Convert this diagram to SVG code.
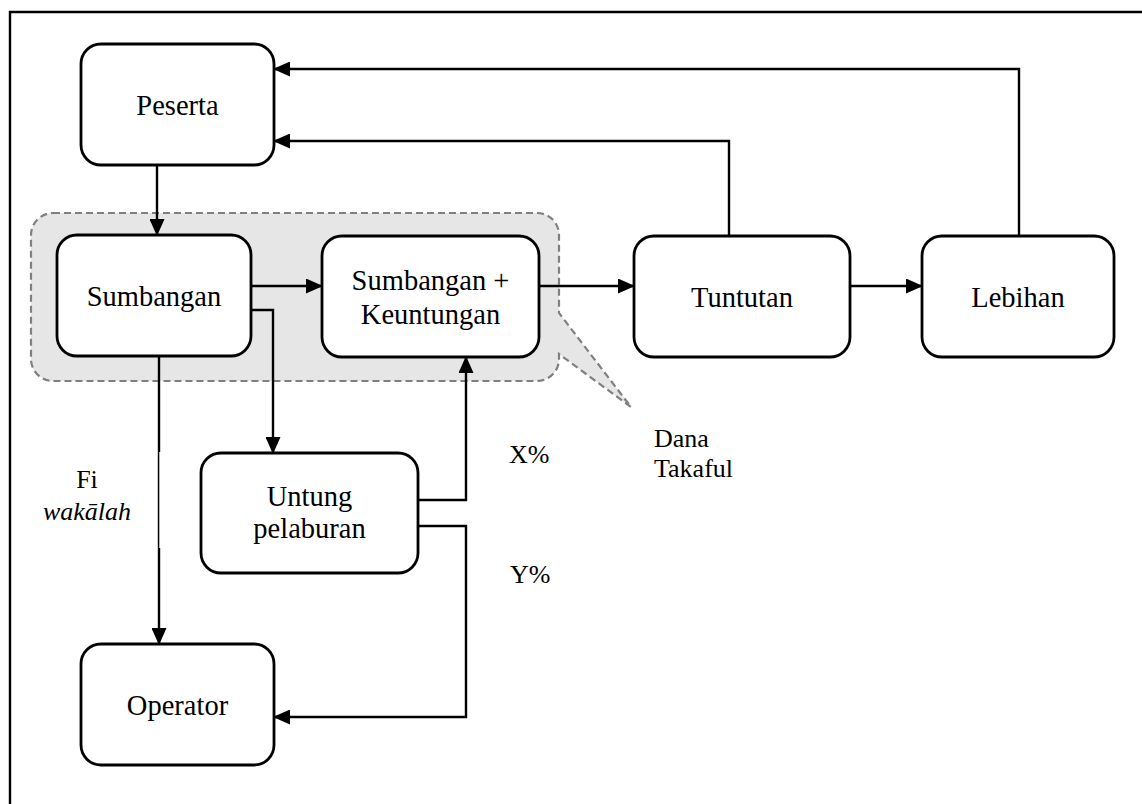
<svg xmlns="http://www.w3.org/2000/svg" width="1142" height="804" viewBox="0 0 1142 804">
<style>
.box{fill:#fff;stroke:#000;stroke-width:2.8}
.t{font-family:"Liberation Serif","Times New Roman",serif;font-size:28.5px;fill:#000;text-anchor:middle}
.lbl{font-family:"Liberation Serif","Times New Roman",serif;font-size:26px;fill:#000}
.c{fill:none;stroke:#000;stroke-width:2.4}
</style>
<defs>
<marker id="ah" markerWidth="17" markerHeight="15" refX="16" refY="7.5" orient="auto" markerUnits="userSpaceOnUse">
<path d="M0,0 L17,7.5 L0,15 Z" fill="#000"/>
</marker>
</defs>
<rect width="1142" height="804" fill="#fff"/>
<path d="M10,804 V12 H1142" fill="none" stroke="#000" stroke-width="2.4"/>
<g id="dana-takaful">
<path d="M53,213 H537 A22,22 0 0 1 559,235 V313 L631,407 L559,354 V359 A22,22 0 0 1 537,381 H53 A22,22 0 0 1 31,359 V235 A22,22 0 0 1 53,213 Z" fill="#e6e6e6" stroke="#808080" stroke-width="2.2" stroke-dasharray="7,4"/>
</g>
<g id="connectors">
<path d="M1019,236 V69 H274" class="c" marker-end="url(#ah)"/>
<path d="M729,236 V141 H274" class="c" marker-end="url(#ah)"/>
<path d="M157,165 V235" class="c" marker-end="url(#ah)"/>
<path d="M251,286 H322" class="c" marker-end="url(#ah)"/>
<path d="M251,310 H273 V453" class="c" marker-end="url(#ah)"/>
<path d="M539,286 H634" class="c" marker-end="url(#ah)"/>
<path d="M850,286 H922" class="c" marker-end="url(#ah)"/>
<path d="M418,500 H466 V357" class="c" marker-end="url(#ah)"/>
<path d="M418,526 H466 V717 H274" class="c" marker-end="url(#ah)"/>
<path d="M159,356 V644" class="c" marker-end="url(#ah)"/>
<rect x="159.3" y="452" width="2.2" height="96" fill="#fff"/>
</g>
<g id="peserta"><rect class="box" x="81" y="44" width="193" height="121" rx="20"/><text class="t" x="177.5" y="115">Peserta</text></g>
<g id="sumbangan"><rect class="box" x="57" y="235" width="194" height="121" rx="20"/><text class="t" x="154" y="306">Sumbangan</text></g>
<g id="sumbangan-keuntungan"><rect class="box" x="322" y="236" width="217" height="121" rx="20"/><text class="t" x="430.5" y="290">Sumbangan +</text><text class="t" x="430.5" y="324">Keuntungan</text></g>
<g id="tuntutan"><rect class="box" x="634" y="236" width="216" height="121" rx="20"/><text class="t" x="742" y="307">Tuntutan</text></g>
<g id="lebihan"><rect class="box" x="922" y="236" width="192" height="121" rx="20"/><text class="t" x="1018" y="307">Lebihan</text></g>
<g id="untung"><rect class="box" x="201" y="453" width="217" height="120" rx="20"/><text class="t" x="309.5" y="506">Untung</text><text class="t" x="309.5" y="538">pelaburan</text></g>
<g id="operator"><rect class="box" x="81" y="644" width="193" height="121" rx="20"/><text class="t" x="177.5" y="715">Operator</text></g>
<g id="labels">
<text class="lbl" x="509" y="463">X%</text>
<text class="lbl" x="510" y="583">Y%</text>
<text class="lbl" x="654" y="447">Dana</text>
<text class="lbl" x="654" y="477">Takaful</text>
<text class="lbl" x="87" y="488" text-anchor="middle">Fi</text>
<text class="lbl" x="87" y="520" text-anchor="middle" font-style="italic">wakālah</text>
</g>
</svg>
